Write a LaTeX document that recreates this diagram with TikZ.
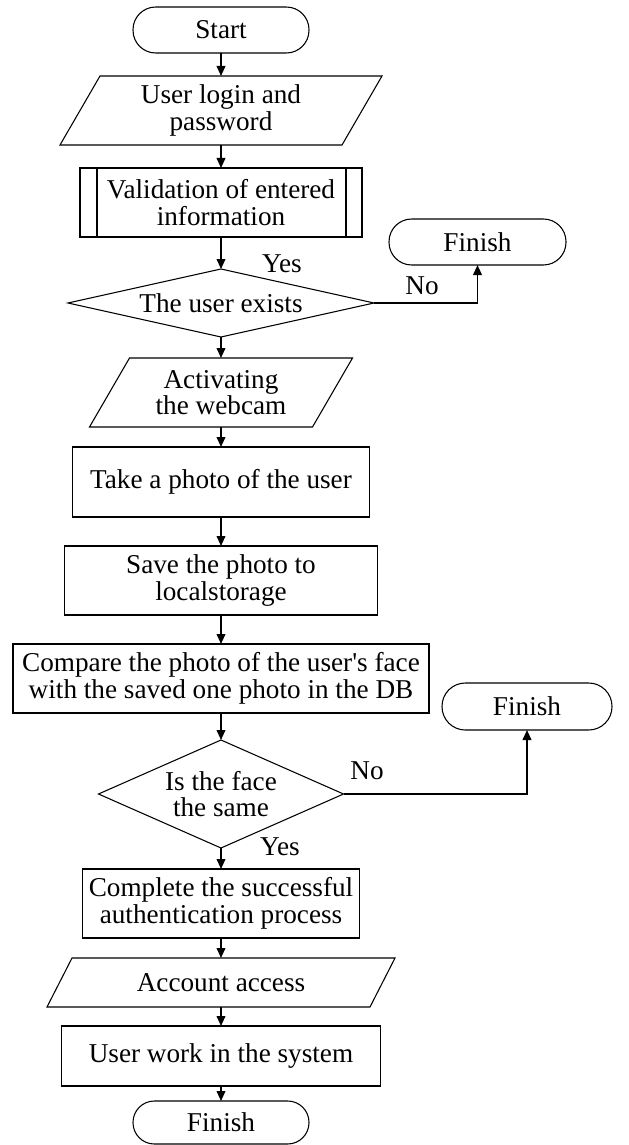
\documentclass[tikz,border=0pt]{standalone}
\usepackage{fontspec}
\setmainfont{Liberation Serif}
\usetikzlibrary{arrows.meta,calc}
\begin{document}
\begin{tikzpicture}[x=0.75pt,y=-0.75pt,
  txt/.style={inner sep=0pt, outer sep=0pt, align=center, font=\fontsize{20.4pt}{19.8pt}\selectfont},
  procbox/.style={txt, draw, line width=0.8pt},
  anchorbox/.style={txt},
  term/.style={txt, draw, line width=0.8pt},
  shapeline/.style={line width=0.8pt},
  arr/.style={line width=1.3pt, -{Triangle[length=7.5pt,width=6.5pt]}},
  lbl/.style={inner sep=0pt, font=\fontsize{20.4pt}{19.8pt}\selectfont}]
\useasboundingbox (0,0) rectangle (628,1145);

% nodes
\node[term, minimum width=132pt, minimum height=34.5pt, rounded corners=17pt] (start) at (221,30) {Start};
\node[anchorbox, minimum width=211.5pt, minimum height=51.75pt] (login) at (221,110.5) {User login and\\password};
\node[procbox, minimum width=211.5pt, minimum height=51.75pt] (valid) at (221,202.5) {Validation of entered\\information};
\node[anchorbox, minimum width=229.5pt, minimum height=51pt] (exists) at (221,303) {The user exists};
\node[term, minimum width=132.75pt, minimum height=34.5pt, rounded corners=17pt] (finA) at (477.5,242) {Finish};
\node[anchorbox, minimum width=167.25pt, minimum height=51.75pt] (webcam) at (221,392.5) {Activating\\the webcam};
\node[procbox, minimum width=222.75pt, minimum height=52.5pt] (take) at (221,482) {Take a photo of the user};
\node[procbox, minimum width=234.75pt, minimum height=51.75pt] (save) at (221,580.5) {Save the photo to\\localstorage};
\node[procbox, minimum width=312pt, minimum height=51.75pt] (comp) at (221,678.5) {Compare the photo of the user\textquotesingle s face\\with the saved one photo in the DB};
\node[anchorbox, minimum width=183.75pt, minimum height=81pt] (same) at (221,794) {Is the face\\the same};
\node[term, minimum width=127.5pt, minimum height=35.25pt, rounded corners=17.5pt] (finB) at (527,706.5) {Finish};
\node[procbox, minimum width=207.75pt, minimum height=51.75pt] (compl) at (221,903.5) {Complete the successful\\authentication process};
\node[anchorbox, minimum width=242.25pt, minimum height=36.75pt] (acc) at (221,982.5) {Account access};
\node[procbox, minimum width=239.25pt, minimum height=45pt] (work) at (221,1056) {User work in the system};
\node[term, minimum width=132pt, minimum height=32.25pt, rounded corners=16pt] (finC) at (221,1122.5) {Finish};

% parallelograms
\draw[shapeline] ($(login.south west)+(-20,0)$) -- ($(login.south east)+(-20,0)$) -- ($(login.north east)+(20,0)$) -- ($(login.north west)+(20,0)$) -- cycle;
\draw[shapeline] ($(webcam.south west)+(-20,0)$) -- ($(webcam.south east)+(-20,0)$) -- ($(webcam.north east)+(20,0)$) -- ($(webcam.north west)+(20,0)$) -- cycle;
\draw[shapeline] ($(acc.south west)+(-12.5,0)$) -- ($(acc.south east)+(-12.5,0)$) -- ($(acc.north east)+(12.5,0)$) -- ($(acc.north west)+(12.5,0)$) -- cycle;

% predefined process bars
\draw[shapeline] ($(valid.north west)+(17,0)$) -- ($(valid.south west)+(17,0)$);
\draw[shapeline] ($(valid.north east)+(-16,0)$) -- ($(valid.south east)+(-16,0)$);

% diamonds
\draw[shapeline] (exists.west) -- (exists.north) -- (exists.east) -- (exists.south) -- cycle;
\draw[shapeline] (same.west) -- (same.north) -- (same.east) -- (same.south) -- cycle;

% connectors
\draw[arr] (start.south) -- (login.north);
\draw[arr] (login.south) -- (valid.north);
\draw[arr] (valid.south) -- (exists.north);
\draw[arr] (exists.south) -- (webcam.north);
\draw[arr] (webcam.south) -- (take.north);
\draw[arr] (take.south) -- (save.north);
\draw[arr] (save.south) -- (comp.north);
\draw[arr] (comp.south) -- (same.north);
\draw[arr] (same.south) -- (compl.north);
\draw[arr] (compl.south) -- (acc.north);
\draw[arr] (acc.south) -- (work.north);
\draw[arr] (work.south) -- (finC.north);
\draw[arr] (exists.east) -| (finA.south);
\draw[arr] (same.east) -| (finB.south);

% labels
\node[lbl] (yesA) at (282,264) {Yes};
\node[lbl] (noA) at (422,286) {No};
\node[lbl] (noB) at (367,771) {No};
\node[lbl] (yesB) at (280,847) {Yes};
\end{tikzpicture}
\end{document}
